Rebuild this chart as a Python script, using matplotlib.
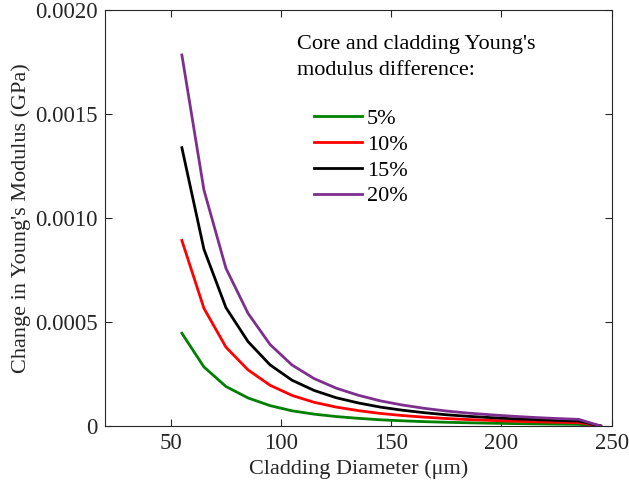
'''
Change in Young's modulus vs cladding diameter for several core/cladding differences
'''
import matplotlib
matplotlib.use("Agg")
import matplotlib.pyplot as plt
import numpy as np

# cladding diameters (um)
diameter = [55, 65, 75, 85, 95, 105, 115, 125, 135, 145, 155, 165, 175, 185,
            195, 205, 215, 225, 235, 245]

# change in Young's modulus (GPa) (x1e-6)
dE_5 = [446, 284, 190, 135, 98, 73, 57, 45.5, 37, 30, 25, 21, 18, 15.5,
        13.5, 11.8, 10.3, 9, 8, 0]
dE_10 = [892, 566, 379, 270, 196, 147, 114, 91, 74, 60.5, 50.5, 42.5, 36, 31,
         27, 23.5, 20.5, 18, 16, 0]
dE_15 = [1338, 850, 569, 406, 294, 220, 171, 136, 111, 91, 76, 64, 54, 46.5,
         40.5, 35, 31, 27, 24, 0]
dE_20 = [1784, 1135, 758, 542, 392, 293, 228, 182, 148, 121, 101, 85, 72, 62,
         54, 47, 41, 36, 32, 0]

series_labels = ["5%", "10%", "15%", "20%"]
series_colors = ["#008000", "#ff0000", "#000000", "#7e2f8e"]
legend_title = "Core and cladding Young's\nmodulus difference:"

plt.rcParams['font.family'] = ['Liberation Serif', 'DejaVu Serif']

fig = plt.figure(figsize=(6.29, 4.84), dpi=100)
ax = fig.add_axes([0.1665, 0.1198, 0.806, 0.8595])

for vals, lab, col in zip([dE_5, dE_10, dE_15, dE_20], series_labels, series_colors):
    ax.plot(diameter, np.array(vals) * 1e-6, color=col, lw=2, label=lab)

ax.set_xlim(20, 250)
ax.set_ylim(0, 0.002)
ax.set_xticks([50, 100, 150, 200, 250])
ax.set_yticks([0, 0.0005, 0.001, 0.0015, 0.002])
ax.set_yticklabels(["0", "0.0005", "0.0010", "0.0015", "0.0020"])

ax.tick_params(direction='in', length=5, width=0.8, top=True, right=True,
               labelsize=16.5, colors='#262626', pad=5)
for sp in ax.spines.values():
    sp.set_color('#262626')
    sp.set_linewidth(0.8)

ax.set_xlabel("Cladding Diameter (\u03bcm)", fontsize=16, color='#262626', labelpad=4)
ax.set_ylabel("Change in Young's Modulus (GPa)", fontsize=16, color='#262626', labelpad=3)

# legend title written as text, entries indented below it
ax.text(0.379, 0.886, legend_title, transform=ax.transAxes, fontsize=16,
        ha='left', va='center', linespacing=1.45, color='#000000')
leg = ax.legend(frameon=False, fontsize=16, loc='upper left',
                bbox_to_anchor=(0.4128, 0.764), borderpad=0, borderaxespad=0,
                handlelength=2.16, handletextpad=0.22, labelspacing=0.24)

fig.savefig("out.png", dpi=100)
